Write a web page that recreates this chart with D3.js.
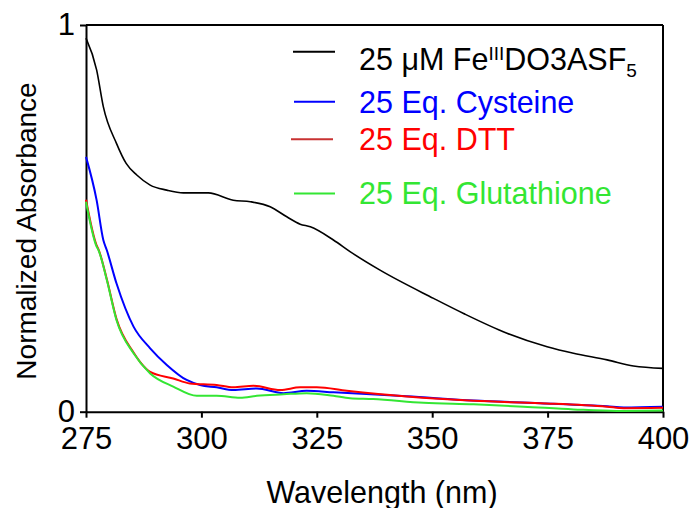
<!DOCTYPE html>
<html>
<head>
<meta charset="utf-8">
<script src="https://cdn.jsdelivr.net/npm/d3@7"></script>
<style>
  html, body { margin: 0; padding: 0; background: #fff; }
  svg text { font-family: "Liberation Sans", Arial, sans-serif; }
</style>
</head>
<body>
<svg id="chart" width="692" height="508"></svg>
<script>
// Wavelength grids (nm) and normalized absorbance for each spectrum
const feWave = [275, 277.3, 278.75, 281.6, 283.7, 286, 288.9, 292.5, 296.1, 301.5, 306.9, 310.6, 314.9, 318.5, 321.4, 323.6, 328.6, 332.2, 338.7, 350.3, 356.8, 366.2, 374.9, 380.6, 387.9, 393.6, 400];
const feAbs  = [0.966, 0.884, 0.789, 0.694, 0.642, 0.612, 0.586, 0.573, 0.566, 0.566, 0.547, 0.543, 0.530, 0.504, 0.485, 0.478, 0.444, 0.414, 0.366, 0.293, 0.254, 0.203, 0.168, 0.151, 0.134, 0.118, 0.112];

const cysWave = [275, 277.3, 278.75, 279.5, 281.6, 285.3, 288.9, 292.5, 296.8, 299.7, 303.3, 306.9, 312, 317.8, 322.8, 328.6, 344.5, 359, 373.4, 387.9, 391.5, 400];
const cysAbs  = [0.659, 0.547, 0.444, 0.418, 0.332, 0.220, 0.164, 0.121, 0.082, 0.069, 0.063, 0.056, 0.060, 0.048, 0.054, 0.050, 0.040, 0.029, 0.022, 0.014, 0.011, 0.013];

const dttWave = [275, 277.3, 277.7, 279.5, 281.6, 285.3, 286.7, 288.9, 293.9, 297.5, 303.3, 306.9, 311.3, 317.1, 321.4, 325, 331.5, 344.5, 359, 373.4, 387.9, 391.5, 400];
const dttAbs  = [0.548, 0.430, 0.420, 0.343, 0.240, 0.153, 0.129, 0.103, 0.086, 0.073, 0.069, 0.063, 0.067, 0.056, 0.063, 0.063, 0.054, 0.039, 0.028, 0.022, 0.013, 0.009, 0.010];

const gshWave = [275, 277.3, 277.7, 279.5, 281.6, 285.3, 288.9, 293.9, 299, 303.3, 308.4, 312, 317.8, 322.8, 328.6, 332.2, 337.2, 348.1, 359, 369.8, 380.6, 390, 400];
const gshAbs  = [0.543, 0.427, 0.418, 0.341, 0.237, 0.151, 0.099, 0.065, 0.041, 0.041, 0.036, 0.041, 0.045, 0.048, 0.041, 0.035, 0.033, 0.023, 0.019, 0.013, 0.006, 0.002, 0.003];

const xTicks = [275, 300, 325, 350, 375, 400];
const yTicks = [0, 1];

const seriesNames  = ["Fe", "Cys", "DTT", "GSH"];
const seriesColors = ["#000000", "#0000ff", "#ff0000", "#33e633"];
const legendColors = ["#000000", "#0000ff", "#c83232", "#33e633"];

const svg = d3.select("#chart");
const plotLeft = 86, plotRight = 663, plotTop = 25, plotBottom = 411.7;

const x = d3.scaleLinear().domain([275, 400]).range([plotLeft, plotRight]);
const y = d3.scaleLinear().domain([0, 1]).range([plotBottom, plotTop]);

// Frame: top and right edges
svg.append("line").attr("x1", plotLeft).attr("x2", plotRight).attr("y1", plotTop).attr("y2", plotTop)
  .attr("stroke", "#000").attr("stroke-width", 2);
svg.append("line").attr("x1", plotRight).attr("x2", plotRight).attr("y1", plotTop).attr("y2", plotBottom)
  .attr("stroke", "#000").attr("stroke-width", 2);

// Bottom axis
const xAxis = svg.append("g").attr("transform", `translate(0,${plotBottom})`)
  .call(d3.axisBottom(x).tickValues(xTicks).tickSize(6).tickSizeOuter(0).tickPadding(9).tickFormat(d3.format("d")));
xAxis.select(".domain").attr("stroke-width", 2);
xAxis.selectAll(".tick line").attr("stroke-width", 2);
xAxis.selectAll("text").attr("font-size", 31).attr("fill", "#000")
  .attr("font-family", "'Liberation Sans', Arial, sans-serif");

// Left axis
const yAxis = svg.append("g").attr("transform", `translate(${plotLeft},0)`)
  .call(d3.axisLeft(y).tickValues(yTicks).tickSize(6).tickSizeOuter(0).tickPadding(5).tickFormat(d3.format("d")));
yAxis.select(".domain").attr("stroke-width", 2);
yAxis.selectAll(".tick line").attr("stroke-width", 2);
yAxis.selectAll("text").attr("font-size", 31).attr("fill", "#000")
  .attr("font-family", "'Liberation Sans', Arial, sans-serif");

// Axis titles
svg.append("text").attr("x", 382).attr("y", 503).attr("text-anchor", "middle")
  .attr("font-size", 30.5).text("Wavelength (nm)");
svg.append("text").attr("transform", "translate(36,231) rotate(-90)").attr("text-anchor", "middle")
  .attr("font-size", 28).text("Normalized Absorbance");

// Spectra
const line = d3.line().x(d => x(d[0])).y(d => y(d[1])).curve(d3.curveMonotoneX);
const spectra = [
  d3.zip(feWave, feAbs),
  d3.zip(cysWave, cysAbs),
  d3.zip(dttWave, dttAbs),
  d3.zip(gshWave, gshAbs)
];
spectra.forEach((pts, i) => {
  svg.append("path").datum(pts)
    .attr("class", "spectrum-" + seriesNames[i])
    .attr("fill", "none")
    .attr("stroke", seriesColors[i])
    .attr("stroke-width", i === 0 ? 1.6 : 2)
    .attr("stroke-linejoin", "round")
    .attr("d", line);
});

// Legend
const legend = [
  { lx1: 293, lx2: 335, ly: 51.7, ty: 70 },
  { lx1: 294, lx2: 335, ly: 101.7, ty: 112.7 },
  { lx1: 291, lx2: 333, ly: 139.3, ty: 150 },
  { lx1: 294, lx2: 335, ly: 193.5, ty: 204 }
];
legend.forEach((p, i) => {
  svg.append("line").attr("x1", p.lx1).attr("x2", p.lx2).attr("y1", p.ly).attr("y2", p.ly)
    .attr("stroke", legendColors[i]).attr("stroke-width", 2);
});

const t0 = svg.append("text").attr("x", 359).attr("y", legend[0].ty).attr("font-size", 30.5).attr("fill", "#000");
t0.append("tspan").text("25 \u03bcM Fe");
t0.append("tspan").attr("font-size", 19).attr("dy", -10).text("III");
t0.append("tspan").attr("dy", 10).text("DO3ASF");
t0.append("tspan").attr("font-size", 19).attr("dy", 7).text("5");

const labels = ["25 Eq. Cysteine", "25 Eq. DTT", "25 Eq. Glutathione"];
labels.forEach((s, j) => {
  svg.append("text").attr("x", 359).attr("y", legend[j + 1].ty)
    .attr("font-size", 30.5).attr("fill", seriesColors[j + 1]).text(s);
});
</script>
</body>
</html>
